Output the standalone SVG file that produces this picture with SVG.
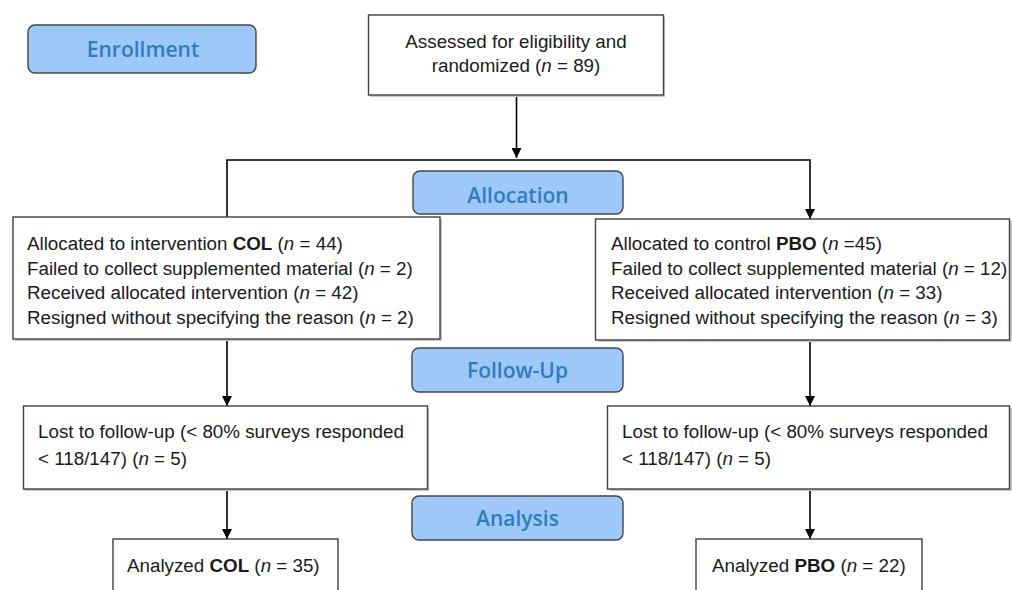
<svg xmlns="http://www.w3.org/2000/svg" width="1012" height="590" viewBox="0 0 1012 590">
<defs>
<style>
.box{fill:#ffffff;stroke:#404040;stroke-width:1.4}
.shadow{fill:#c8c8c8;stroke:none}
.stage{fill:#9dc8f7;stroke:#454545;stroke-width:1.4}
.stxt{font-family:"Open Sans","Liberation Sans",sans-serif;font-weight:600;font-size:21px;fill:#2f7cc0;text-anchor:middle}
.t{font-family:"Liberation Sans",Arial,sans-serif;font-size:18.8px;fill:#1a1a1a}
.c{text-anchor:middle}
.b{font-weight:bold}
.i{font-style:italic}
.conn{stroke:#000;stroke-width:1.6;fill:none}
</style>
<marker id="ah" viewBox="0 0 10 10" refX="10" refY="5" markerWidth="10" markerHeight="10" markerUnits="userSpaceOnUse" orient="auto">
<path d="M0,0 L10,5 L0,10 Z" fill="#000"/>
</marker>
</defs>
<rect width="1012" height="590" fill="#ffffff"/>

<g id="connectors">
<line class="conn" x1="516.5" y1="95" x2="516.5" y2="158" marker-end="url(#ah)"/>
<polyline class="conn" points="227,217 227,160 810,160 810,219" marker-end="url(#ah)"/>
<line class="conn" x1="227" y1="339" x2="227" y2="406" marker-end="url(#ah)"/>
<line class="conn" x1="810" y1="340" x2="810" y2="406" marker-end="url(#ah)"/>
<line class="conn" x1="227" y1="489" x2="227" y2="539" marker-end="url(#ah)"/>
<line class="conn" x1="810" y1="489" x2="810" y2="539" marker-end="url(#ah)"/>
</g>

<g id="stage-enrollment">
<rect class="stage" x="28" y="25" width="228" height="48" rx="7"/>
<text class="stxt" x="143" y="57">Enrollment</text>
</g>

<g id="node-assessed">
<rect class="shadow" x="370" y="17" width="295" height="80"/>
<rect class="box" x="368.5" y="15" width="295" height="80"/>
<text class="t c" x="516" y="47.5">Assessed for eligibility and</text>
<text class="t c" x="516" y="71.5">randomized (<tspan class="i">n</tspan> = 89)</text>
</g>

<g id="stage-allocation">
<rect class="stage" x="413" y="171" width="210" height="43" rx="7"/>
<text class="stxt" x="518" y="203">Allocation</text>
</g>

<g id="node-col-allocated">
<rect class="shadow" x="15" y="219" width="427" height="122"/>
<rect class="box" x="13" y="217" width="427" height="122"/>
<text class="t" x="27" y="250">Allocated to intervention <tspan class="b">COL</tspan> (<tspan class="i">n</tspan> = 44)</text>
<text class="t" x="27" y="274.5">Failed to collect supplemented material (<tspan class="i">n</tspan> = 2)</text>
<text class="t" x="27" y="299">Received allocated intervention (<tspan class="i">n</tspan> = 42)</text>
<text class="t" x="27" y="323.5">Resigned without specifying the reason (<tspan class="i">n</tspan> = 2)</text>
</g>

<g id="node-pbo-allocated">
<rect class="shadow" x="598" y="221" width="414" height="121"/>
<rect class="box" x="595.5" y="219" width="414" height="121"/>
<text class="t" x="611" y="250">Allocated to control <tspan class="b">PBO</tspan> (<tspan class="i">n</tspan> =45)</text>
<text class="t" x="611" y="274.5">Failed to collect supplemented material (<tspan class="i">n</tspan> = 12)</text>
<text class="t" x="611" y="299">Received allocated intervention (<tspan class="i">n</tspan> = 33)</text>
<text class="t" x="611" y="323.5">Resigned without specifying the reason (<tspan class="i">n</tspan> = 3)</text>
</g>

<g id="stage-followup">
<rect class="stage" x="412" y="348" width="211" height="44" rx="7"/>
<text class="stxt" x="517.5" y="378">Follow-Up</text>
</g>

<g id="node-col-lost">
<rect class="shadow" x="25" y="408" width="404" height="83"/>
<rect class="box" x="23.5" y="406" width="404" height="83"/>
<text class="t" x="38" y="438">Lost to follow-up (&lt; 80% surveys responded</text>
<text class="t" x="38" y="465">&lt; 118/147) (<tspan class="i">n</tspan> = 5)</text>
</g>

<g id="node-pbo-lost">
<rect class="shadow" x="610" y="408" width="402" height="83"/>
<rect class="box" x="607.5" y="406" width="402" height="83"/>
<text class="t" x="622" y="438">Lost to follow-up (&lt; 80% surveys responded</text>
<text class="t" x="622" y="465">&lt; 118/147) (<tspan class="i">n</tspan> = 5)</text>
</g>

<g id="stage-analysis">
<rect class="stage" x="412" y="496" width="211" height="44" rx="7"/>
<text class="stxt" x="517.5" y="526">Analysis</text>
</g>

<g id="node-col-analyzed">
<rect class="box" x="113" y="539" width="225" height="70"/>
<text class="t" x="127" y="572">Analyzed <tspan class="b">COL</tspan> (<tspan class="i">n</tspan> = 35)</text>
</g>

<g id="node-pbo-analyzed">
<rect class="box" x="696" y="539" width="226" height="70"/>
<text class="t" x="712" y="572">Analyzed <tspan class="b">PBO</tspan> (<tspan class="i">n</tspan> = 22)</text>
</g>
</svg>
